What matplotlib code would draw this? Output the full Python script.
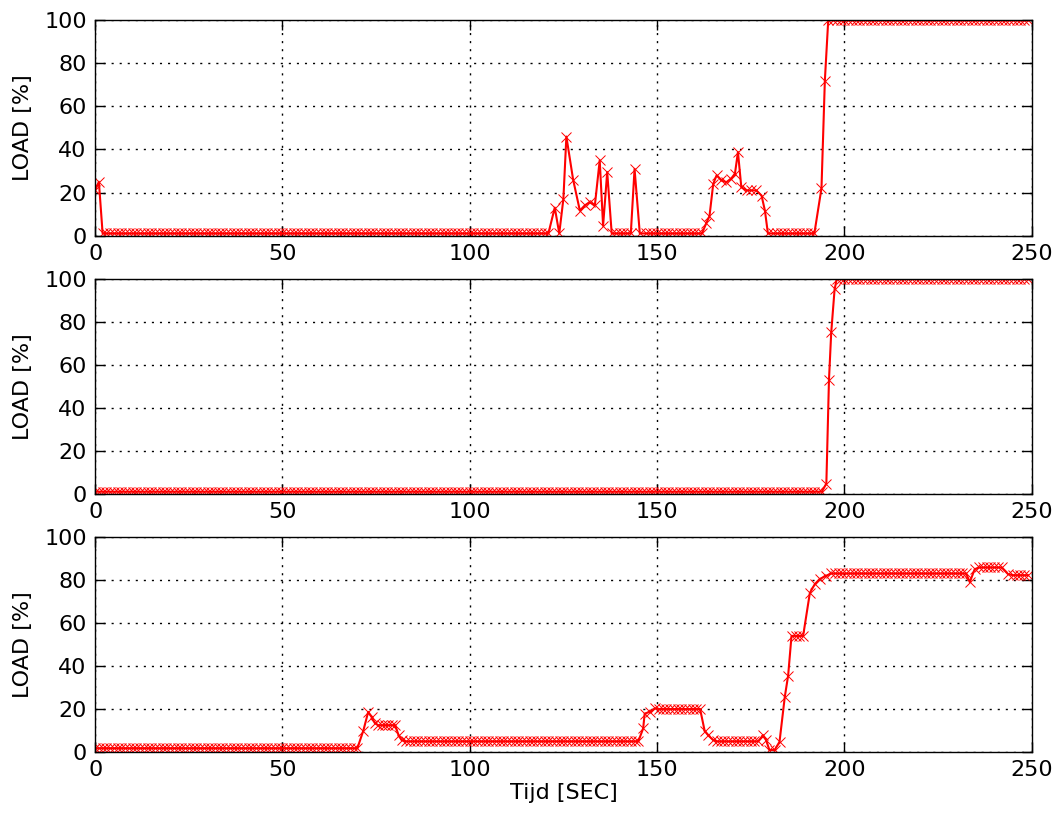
import numpy as np
import matplotlib
matplotlib.use("Agg")
import matplotlib.pyplot as plt

# --- panel 1 (top) ---
top_t = np.concatenate([
    [0, 1],
    np.arange(2, 122),
    [122.7, 123.9, 125.0, 125.8, 127.6, 129.4, 130.7, 132.0, 133.4, 134.7, 135.6, 136.7, 137.9],
    np.arange(139, 144),
    [144.0, 145.4],
    np.arange(147, 163),
    [163.2, 164.0, 165.0, 165.9, 167.2, 168.5, 169.8, 170.8, 171.6, 172.5, 173.9, 175.2, 176.5, 177.9, 178.8, 179.6],
    np.arange(181, 193),
    [193.9, 194.8, 195.7],
    np.arange(197, 250),
])
top_v = np.concatenate([
    [21, 25],
    np.full(120, 1.0),
    [13, 1, 17, 46, 26, 11.6, 14, 15.5, 14, 35, 4.6, 29.5, 1],
    np.full(5, 1.0),
    [31, 1],
    np.full(16, 1.0),
    [6, 9, 24, 28, 25.6, 24.8, 26.5, 28.8, 38.8, 22.5, 21, 21, 21, 18.6, 11.6, 1],
    np.full(12, 1.0),
    [22, 72, 100],
    np.full(53, 100.0),
])

# --- panel 2 (middle) ---
mid_t = np.concatenate([
    np.arange(0, 195),
    [195.2, 195.9, 196.5, 197.4],
    np.arange(198, 250),
])
mid_v = np.concatenate([
    np.full(195, 1.0),
    [4.8, 53, 75, 95],
    np.full(52, 100.0),
])

# --- panel 3 (bottom) ---
bot_t = np.concatenate([
    np.arange(0, 71),
    [71.6, 72.9, 73.8, 74.7],
    np.arange(75.6, 80.5, 0.9),
    [81.0, 81.8],
    np.arange(83, 146),
    [146.3, 146.7, 148.0, 149.4],
    np.arange(150.5, 162),
    [162.7, 163.6, 165.0],
    np.arange(166, 178),
    [178.3, 179.1, 180.0, 181.4, 182.7, 184.1, 185.0, 185.9],
    np.arange(187, 190),
    [190.8, 192.1, 193.4, 195.2],
    np.arange(196.5, 233),
    [233.5, 234.8],
    np.arange(236, 243),
    [243.7],
    np.arange(245, 250),
])
bot_v = np.concatenate([
    np.full(71, 1.8),
    [10, 18.7, 16.3, 13.4],
    np.full(6, 12.5),
    [7.9, 5.6],
    np.full(63, 5.0),
    [11, 17.9, 18.7, 20.3],
    np.full(12, 20.0),
    [10, 7.9, 5.6],
    np.full(12, 5.0),
    [7.9, 5.6, 1, 1, 4.8, 25.6, 35.6, 54],
    np.full(3, 54.0),
    [74, 78, 80.4, 82],
    np.full(37, 83.0),
    [79, 85],
    np.full(7, 85.8),
    [82.7],
    np.full(5, 82.2),
])

series = [(top_t, top_v), (mid_t, mid_v), (bot_t, bot_v)]

plt.rcParams['font.family'] = 'DejaVu Sans'
plt.rcParams['font.size'] = 16

fig, axes = plt.subplots(3, 1, figsize=(10.57, 8.14), dpi=100)
fig.subplots_adjust(left=0.09, right=0.976, top=0.975, bottom=0.076, hspace=0.2)

for ax, (t, v) in zip(axes, series):
    ax.plot(t, v, color='r', linestyle='-', linewidth=1.5,
            marker='x', markersize=7, markeredgewidth=0.7)
    ax.set_xlim(0, 250)
    ax.set_ylim(0, 100)
    ax.set_xticks([0, 50, 100, 150, 200, 250])
    ax.set_yticks([0, 20, 40, 60, 80, 100])
    # grove stippellijnen zoals de oude matplotlib-stijl
    ax.grid(True, color='k', linestyle=(0, (1.5, 4.3)), linewidth=1.0)
    ax.tick_params(direction='in', top=True, right=True, length=7, width=1,
                   labelsize=16, pad=6)
    ax.set_ylabel('LOAD [%]', fontsize=16, labelpad=8)
    for s in ax.spines.values():
        s.set_linewidth(1.0)

axes[2].set_xlabel('Tijd [SEC]', fontsize=16, labelpad=2)

fig.savefig('out.png', dpi=100, facecolor='white')
